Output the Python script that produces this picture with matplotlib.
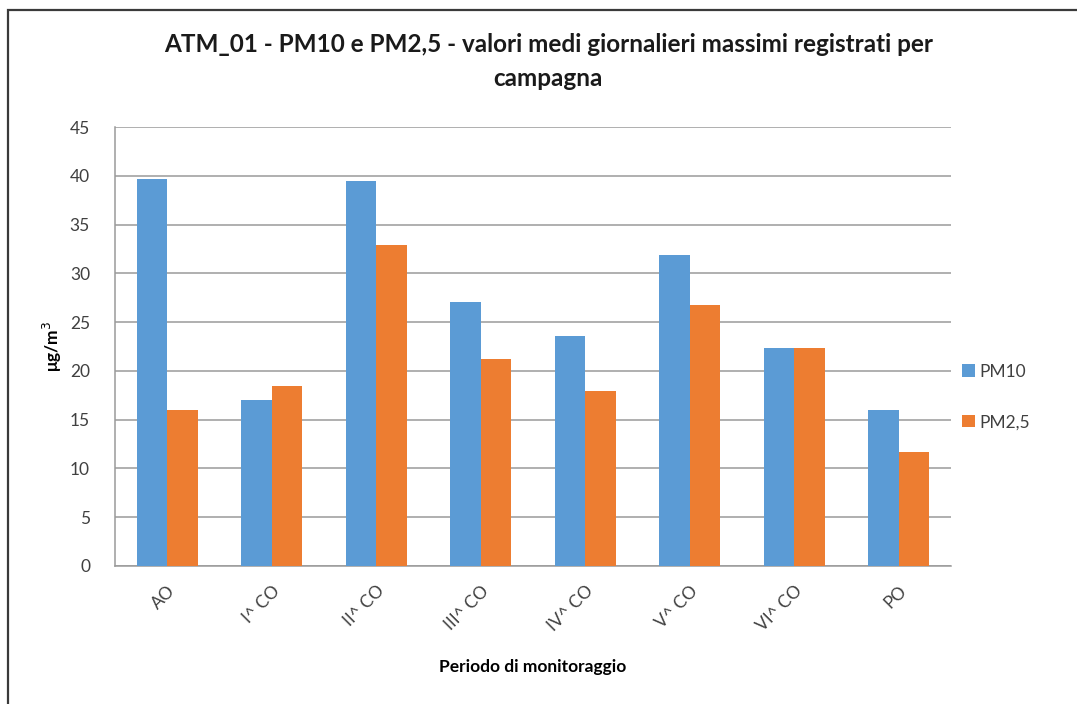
import numpy as np
import matplotlib.pyplot as plt
from matplotlib.patches import Rectangle

categories = ['AO', 'I^ CO', 'II^ CO', 'III^ CO', 'IV^ CO', 'V^ CO', 'VI^ CO', 'PO']
pm10 = [39.7, 17.0, 39.5, 27.1, 23.6, 31.9, 22.3, 16.0]
pm25 = [16.0, 18.5, 32.9, 21.2, 17.9, 26.8, 22.3, 11.7]
series_names = ['PM10', 'PM2,5']
y_ticks = [0, 5, 10, 15, 20, 25, 30, 35, 40, 45]

plt.rcParams['font.family'] = ['Lato', 'DejaVu Sans']

fig = plt.figure(figsize=(10.77, 7.04), dpi=100)
fig.patch.set_facecolor('white')

# chart frame (cropped on the right and bottom in the original screenshot)
frame = Rectangle((8 / 1077, -0.05), 1.2, 1 - 10 / 704 + 0.05, transform=fig.transFigure,
                  fill=False, edgecolor='#3a3a3a', linewidth=1.6)
fig.patches.append(frame)

ax = fig.add_axes([115 / 1077, 1 - 566 / 704, (951 - 115) / 1077, (566 - 127) / 704])

x = np.arange(len(categories))
w = 0.29
ax.bar(x - w / 2, pm10, w, color='#5B9BD5', label=series_names[0], zorder=3)
ax.bar(x + w / 2, pm25, w, color='#ED7D31', label=series_names[1], zorder=3)

ax.set_xlim(-0.5, len(categories) - 0.5)
ax.set_ylim(0, 45)
ax.set_yticks(y_ticks)
ax.yaxis.grid(True, color='#9a9a9a', linewidth=1.1, zorder=0)
ax.set_axisbelow(True)

for side in ['top', 'right']:
    ax.spines[side].set_visible(False)
ax.spines['left'].set_color('#9a9a9a')
ax.spines['bottom'].set_color('#9a9a9a')
ax.spines['left'].set_linewidth(1.1)
ax.spines['bottom'].set_linewidth(1.1)

ax.tick_params(axis='both', length=0, labelsize=12.5, labelcolor='#404040')
ax.tick_params(axis='y', pad=18)
ax.set_xticks(x)
ax.set_xticklabels(categories, rotation=45, ha='right', va='top', rotation_mode='anchor')
ax.tick_params(axis='x', pad=12)

ax.set_ylabel('μg/m$^3$', fontsize=12.5, fontweight='bold', labelpad=4)
ax.set_xlabel('Periodo di monitoraggio', fontsize=12.5, fontweight='bold', labelpad=18)

fig.text(0.509, 1 - 44 / 704, 'ATM_01 - PM10 e PM2,5 - valori medi giornalieri massimi registrati per',
         ha='center', va='center', fontsize=17.5, fontweight='bold', color='#1a1a1a')
fig.text(0.509, 1 - 79 / 704, 'campagna',
         ha='center', va='center', fontsize=17.5, fontweight='bold', color='#1a1a1a')

ax.legend(loc='center left', bbox_to_anchor=(0.995, 0.385), frameon=False, fontsize=12.5,
          labelspacing=2.0, handlelength=0.7, handleheight=0.7, handletextpad=0.3,
          labelcolor='#404040')

fig.savefig('out.png', dpi=100)
